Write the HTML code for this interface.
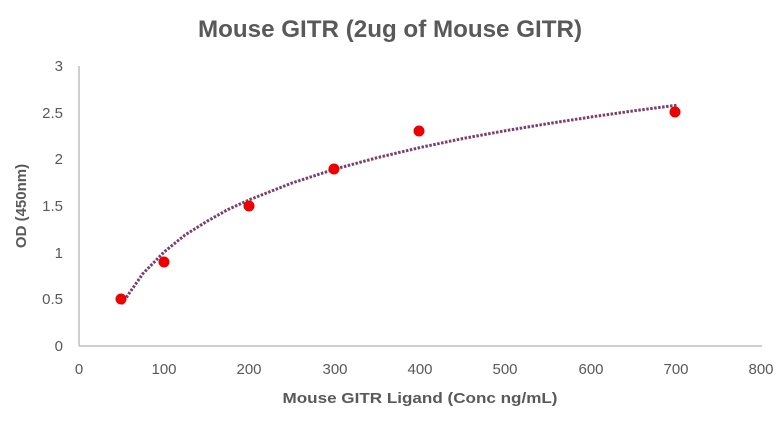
<!DOCTYPE html>
<html><head><meta charset="utf-8"><style>
body{margin:0;background:#fff;}
svg text{font-family:"Liberation Sans",sans-serif;fill:#595959;}
</style></head><body>
<svg width="783" height="417" viewBox="0 0 783 417" xmlns="http://www.w3.org/2000/svg">
<text x="390" y="37" text-anchor="middle" font-size="24" font-weight="bold" textLength="384" lengthAdjust="spacingAndGlyphs">Mouse GITR (2ug of Mouse GITR)</text>
<line x1="79" y1="66" x2="79" y2="346" stroke="#bfbfbf" stroke-width="1.5"/>
<line x1="79" y1="346" x2="762" y2="346" stroke="#bfbfbf" stroke-width="1.5"/>
<g font-size="15" text-anchor="end">
<text x="63" y="351">0</text><text x="63" y="304">0.5</text><text x="63" y="258">1</text>
<text x="63" y="211">1.5</text><text x="63" y="164">2</text><text x="63" y="118">2.5</text><text x="63" y="71">3</text>
</g>
<g font-size="15" text-anchor="middle">
<text x="79" y="374">0</text><text x="164" y="374">100</text><text x="249" y="374">200</text><text x="335" y="374">300</text>
<text x="420" y="374">400</text><text x="505" y="374">500</text><text x="591" y="374">600</text><text x="676" y="374">700</text><text x="761" y="374">800</text>
</g>
<text x="420" y="403" text-anchor="middle" font-size="15" font-weight="bold" textLength="275" lengthAdjust="spacingAndGlyphs">Mouse GITR Ligand (Conc ng/mL)</text>
<text transform="translate(26,206) rotate(-90)" text-anchor="middle" font-size="15" font-weight="bold">OD (450nm)</text>
<path d="M121.7,304 L143,273.5 L164.4,251.7 L185,235 L207.1,221.2 L228,209.5 L249.8,199.6 L292,183 L335.2,169 L378,157.5 L420.6,147.4 L463,138.5 L506,130.6 L549,123.5 L591.4,116.9 L634,110.8 L676.8,105.2" fill="none" stroke="#7b3f6e" stroke-width="3" stroke-dasharray="2.5,1.5"/>
<g fill="#ee0000">
<circle cx="121" cy="299" r="5.5"/><circle cx="164" cy="262" r="5.5"/><circle cx="249" cy="206" r="5.5"/>
<circle cx="334" cy="169" r="5.5"/><circle cx="419" cy="131" r="5.5"/><circle cx="675" cy="112" r="5.5"/>
</g>
</svg>
</body></html>
